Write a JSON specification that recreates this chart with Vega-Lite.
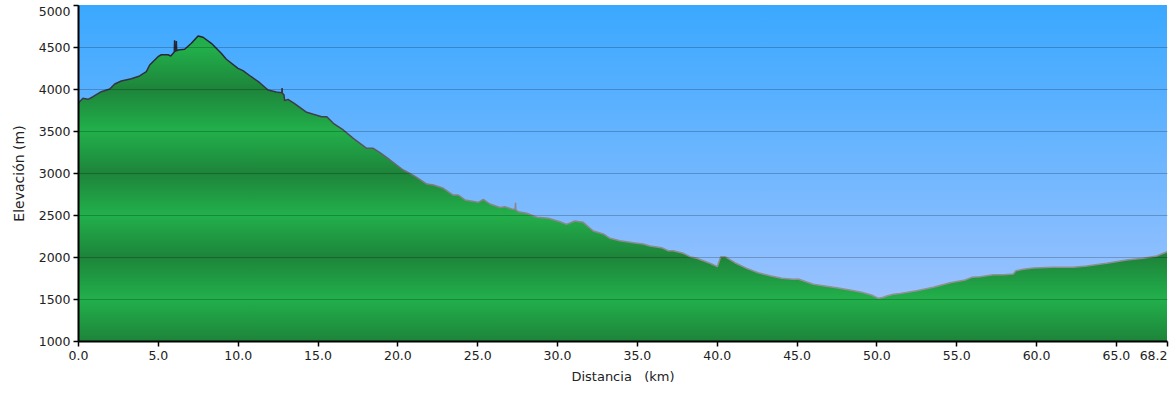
{
  "$schema": "https://vega.github.io/schema/vega-lite/v6.json",
  "width": 1089,
  "height": 336,
  "autosize": {"type": "none"},
  "padding": {"left": 78, "top": 5, "right": 5, "bottom": 52},
  "background": "white",
  "config": {
    "view": {"stroke": null},
    "axis": {
      "labelFont": "DejaVu Sans",
      "labelFontSize": 12.5,
      "labelColor": "#222222",
      "titleFont": "DejaVu Sans",
      "titleFontSize": 13,
      "titleFontWeight": "normal",
      "titleColor": "#222222",
      "domainColor": "#000000",
      "domainWidth": 2,
      "tickColor": "#000000",
      "tickWidth": 1.5,
      "tickSize": 5,
      "labelPadding": 3
    }
  },
  "datasets": {
    "profile": [
      {"d": 0, "e": 3830}, {"d": 0.1, "e": 3849}, {"d": 0.31, "e": 3889}, {"d": 0.45, "e": 3885},
      {"d": 0.63, "e": 3877}, {"d": 0.94, "e": 3908}, {"d": 1.46, "e": 3968}, {"d": 1.99, "e": 4000},
      {"d": 2.30, "e": 4060}, {"d": 2.71, "e": 4095}, {"d": 3.34, "e": 4123}, {"d": 3.86, "e": 4155},
      {"d": 4.28, "e": 4206}, {"d": 4.49, "e": 4286}, {"d": 5.01, "e": 4385}, {"d": 5.22, "e": 4408},
      {"d": 5.64, "e": 4408}, {"d": 5.81, "e": 4393}, {"d": 6.03, "e": 4440}, {"d": 6.05, "e": 4580},
      {"d": 6.07, "e": 4448}, {"d": 6.14, "e": 4452}, {"d": 6.16, "e": 4570}, {"d": 6.18, "e": 4455},
      {"d": 6.26, "e": 4464}, {"d": 6.68, "e": 4473}, {"d": 7.10, "e": 4544}, {"d": 7.52, "e": 4631},
      {"d": 7.83, "e": 4616}, {"d": 8.35, "e": 4544}, {"d": 8.97, "e": 4425}, {"d": 9.29, "e": 4354},
      {"d": 10.02, "e": 4246}, {"d": 10.33, "e": 4218}, {"d": 10.85, "e": 4146}, {"d": 11.38, "e": 4075},
      {"d": 11.90, "e": 3988}, {"d": 12.42, "e": 3964}, {"d": 12.76, "e": 3956}, {"d": 12.78, "e": 4010},
      {"d": 12.80, "e": 3950}, {"d": 12.90, "e": 3930}, {"d": 12.94, "e": 3861}, {"d": 13.15, "e": 3877},
      {"d": 13.59, "e": 3822}, {"d": 14.32, "e": 3723}, {"d": 14.74, "e": 3699}, {"d": 15.26, "e": 3670},
      {"d": 15.58, "e": 3670}, {"d": 15.99, "e": 3592}, {"d": 16.61, "e": 3512}, {"d": 17.24, "e": 3413},
      {"d": 18.08, "e": 3294}, {"d": 18.49, "e": 3294}, {"d": 18.91, "e": 3242}, {"d": 19.54, "e": 3155},
      {"d": 20.37, "e": 3036}, {"d": 20.79, "e": 2996}, {"d": 21.21, "e": 2949}, {"d": 21.84, "e": 2869},
      {"d": 22.25, "e": 2857}, {"d": 22.88, "e": 2818}, {"d": 23.50, "e": 2738}, {"d": 23.82, "e": 2738},
      {"d": 24.24, "e": 2679}, {"d": 25.07, "e": 2651}, {"d": 25.38, "e": 2687}, {"d": 25.80, "e": 2631},
      {"d": 26.43, "e": 2590}, {"d": 26.74, "e": 2599}, {"d": 27.16, "e": 2571}, {"d": 27.38, "e": 2565},
      {"d": 27.40, "e": 2646}, {"d": 27.42, "e": 2560}, {"d": 27.57, "e": 2539}, {"d": 28.10, "e": 2520},
      {"d": 28.73, "e": 2473}, {"d": 29.45, "e": 2461}, {"d": 30.19, "e": 2420}, {"d": 30.60, "e": 2389},
      {"d": 31.12, "e": 2429}, {"d": 31.64, "e": 2413}, {"d": 32.27, "e": 2310}, {"d": 32.90, "e": 2274},
      {"d": 33.32, "e": 2223}, {"d": 33.94, "e": 2194}, {"d": 34.78, "e": 2170}, {"d": 35.40, "e": 2155},
      {"d": 35.82, "e": 2131}, {"d": 36.55, "e": 2111}, {"d": 36.97, "e": 2075}, {"d": 37.28, "e": 2075},
      {"d": 37.91, "e": 2044}, {"d": 38.33, "e": 2004}, {"d": 38.75, "e": 1985}, {"d": 39.16, "e": 1956},
      {"d": 39.58, "e": 1925}, {"d": 40.04, "e": 1885}, {"d": 40.25, "e": 2004}, {"d": 40.52, "e": 2004},
      {"d": 41.14, "e": 1932}, {"d": 41.88, "e": 1865}, {"d": 42.60, "e": 1813}, {"d": 43.34, "e": 1777},
      {"d": 44.07, "e": 1746}, {"d": 44.80, "e": 1735}, {"d": 45.11, "e": 1738}, {"d": 45.42, "e": 1718},
      {"d": 46.05, "e": 1675}, {"d": 46.67, "e": 1658}, {"d": 47.51, "e": 1635}, {"d": 48.34, "e": 1607},
      {"d": 49.08, "e": 1580}, {"d": 49.70, "e": 1548}, {"d": 50.13, "e": 1508}, {"d": 50.43, "e": 1520},
      {"d": 50.64, "e": 1536}, {"d": 51.06, "e": 1556}, {"d": 51.48, "e": 1565}, {"d": 52.52, "e": 1599},
      {"d": 53.56, "e": 1639}, {"d": 54.61, "e": 1694}, {"d": 55.55, "e": 1726}, {"d": 55.97, "e": 1758},
      {"d": 56.49, "e": 1765}, {"d": 57.32, "e": 1789}, {"d": 57.95, "e": 1789}, {"d": 58.57, "e": 1798},
      {"d": 58.74, "e": 1837}, {"d": 59.20, "e": 1854}, {"d": 59.83, "e": 1869}, {"d": 61.08, "e": 1877},
      {"d": 62.33, "e": 1877}, {"d": 63.17, "e": 1893}, {"d": 64.42, "e": 1925}, {"d": 65.67, "e": 1964},
      {"d": 66.71, "e": 1985}, {"d": 67.55, "e": 2012}, {"d": 68.07, "e": 2051}, {"d": 68.2, "e": 2062}
    ]
  },
  "layer": [
    {
      "data": {"values": [{"sky": 1}]},
      "mark": {
        "type": "rect",
        "fill": {
          "gradient": "linear", "x1": 0, "y1": 0, "x2": 0, "y2": 1,
          "stops": [
            {"offset": 0, "color": "#3aa8ff"},
            {"offset": 1, "color": "#a8c6ff"}
          ]
        }
      },
      "encoding": {}
    },
    {
      "data": {"name": "profile"},
      "mark": {
        "type": "area",
        "clip": true,
        "fill": {
          "gradient": "linear", "x1": 0, "y1": 0, "x2": 0, "y2": 1,
          "stops": [
            {"offset": 0, "color": "#22ad4a"},
            {"offset": 0.0361, "color": "#22b04b"},
            {"offset": 0.1738, "color": "#1d843a"},
            {"offset": 0.3115, "color": "#22b04b"},
            {"offset": 0.4492, "color": "#1d843a"},
            {"offset": 0.5869, "color": "#22b04b"},
            {"offset": 0.7246, "color": "#1d843a"},
            {"offset": 0.8623, "color": "#22b04b"},
            {"offset": 1, "color": "#1d843a"}
          ]
        }
      },
      "encoding": {
        "x": {
          "field": "d", "type": "quantitative",
          "scale": {"domain": [0, 68.2], "nice": false, "zero": false},
          "axis": {
            "title": "Distancia \u00a0 (km)",
            "values": [0, 5, 10, 15, 20, 25, 30, 35, 40, 45, 50, 55, 60, 65, 68.2],
            "format": ".1f",
            "grid": false,
            "zindex": 1,
            "labelOverlap": false,
            "labelFlush": false,
            "labelAlign": {"condition": {"test": "datum.value > 68", "value": "right"}, "value": "center"},
            "titlePadding": 9
          }
        },
        "y": {
          "field": "e", "type": "quantitative",
          "scale": {"domain": [1000, 5000], "nice": false, "zero": false},
          "axis": {
            "title": "Elevación (m)",
            "titleFontSize": 14,
            "values": [1000, 1500, 2000, 2500, 3000, 3500, 4000, 4500, 5000],
            "format": "d",
            "grid": true,
            "zindex": 1,
            "gridWidth": 1,
            "gridColor": "#000000",
            "gridOpacity": {"condition": {"test": "datum.value == 1000 || datum.value == 5000", "value": 0}, "value": 0.22},
            "labelFlush": false,
            "labelBaseline": {"condition": {"test": "datum.value == 5000", "value": "top"}, "value": "middle"},
            "titlePadding": 12
          }
        },
        "y2": {"datum": 1000}
      }
    },
    {
      "data": {"name": "profile"},
      "mark": {
        "type": "line",
        "clip": true,
        "strokeWidth": 1.5,
        "strokeJoin": "bevel",
        "stroke": {
          "gradient": "linear", "x1": 0, "y1": 0, "x2": 0, "y2": 1,
          "stops": [
            {"offset": 0, "color": "#222233"},
            {"offset": 0.35, "color": "#45454f"},
            {"offset": 0.6, "color": "#858585"},
            {"offset": 1, "color": "#939393"}
          ]
        }
      },
      "encoding": {
        "x": {"field": "d", "type": "quantitative"},
        "y": {"field": "e", "type": "quantitative"}
      }
    }
  ]
}
